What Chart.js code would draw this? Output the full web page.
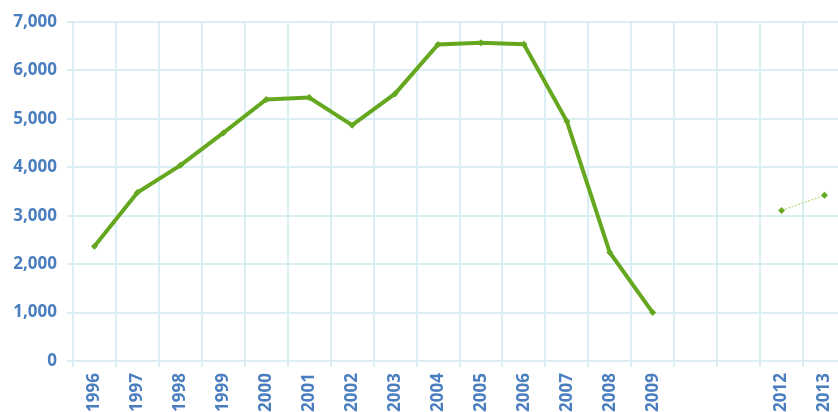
<!DOCTYPE html>
<html>
<head>
<meta charset="utf-8">
<script src="https://cdn.jsdelivr.net/npm/chart.js@4/dist/chart.umd.min.js"></script>
<style>
html,body{margin:0;padding:0;overflow:hidden;background:#fff;}
#wrap{position:absolute;left:0;top:0;width:850px;height:430px;}
</style>
</head>
<body>
<div id="wrap"><canvas id="c" width="850" height="430"></canvas></div>
<script>
const categories = ['1996','1997','1998','1999','2000','2001','2002','2003','2004','2005','2006','2007','2008','2009','2010','2011','2012','2013'];
const tickLabels = ['1996','1997','1998','1999','2000','2001','2002','2003','2004','2005','2006','2007','2008','2009','','','2012','2013'];
const values = [2370,3480,4040,4710,5400,5440,4870,5520,6535,6570,6540,4950,2240,1000,null,null,3110,3420];
const yTicks = [0,1000,2000,3000,4000,5000,6000,7000];

const GREEN = '#65a820';
const BLUE = '#4a7ebf';
const GRID = '#daeef3';
const tickFont = {family:'"Open Sans", sans-serif', weight:'bold', size:17};

new Chart(document.getElementById('c'), {
  type:'line',
  data:{
    labels:categories,
    datasets:[{
      data:values,
      borderColor:GREEN,
      backgroundColor:GREEN,
      borderWidth:4,
      pointStyle:'rectRot',
      pointRadius:3.5,
      pointBorderWidth:0,
      pointBackgroundColor:GREEN,
      tension:0,
      spanGaps:false,
      segment:{
        borderWidth: ctx => ctx.p0DataIndex >= 16 ? 1.2 : 4,
        borderDash: ctx => ctx.p0DataIndex >= 16 ? [2,1.5] : [],
        borderColor: ctx => ctx.p0DataIndex >= 16 ? '#b5db8c' : GREEN
      }
    }]
  },
  options:{
    responsive:false,
    animation:false,
    devicePixelRatio:1,
    layout:{padding:{top:22,right:3,left:0,bottom:0}},
    plugins:{legend:{display:false},tooltip:{enabled:false}},
    scales:{
      x:{
        offset:true,
        grid:{color:GRID,lineWidth:2,offset:true,tickLength:6,drawTicks:true},
        border:{display:false},
        ticks:{
          color:BLUE,font:tickFont,maxRotation:90,minRotation:90,autoSkip:false,padding:6,
          callback:(v,i)=>tickLabels[i]
        },
        afterFit:s=>{s.height=69;s.paddingLeft=0;s.paddingRight=0;}
      },
      y:{
        min:0,max:7000,
        grid:{color:GRID,lineWidth:2,tickLength:6},
        border:{display:false},
        afterBuildTicks:s=>{s.ticks=yTicks.map(v=>({value:v}));},
        ticks:{
          color:BLUE,font:tickFont,padding:10,
          callback:v=>v.toLocaleString('en-US')
        },
        afterFit:s=>{s.width=73;}
      }
    }
  }
});
</script>
</body>
</html>
